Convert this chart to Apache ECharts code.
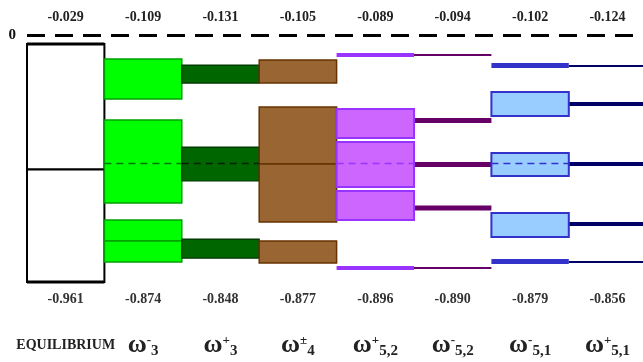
<!DOCTYPE html>
<html><head><meta charset="utf-8">
<script src="https://cdn.jsdelivr.net/npm/echarts@6/dist/echarts.min.js"></script>
<style>html,body{margin:0;padding:0;background:#fff}#c{width:643px;height:362px}</style>
</head><body><div id="c"></div>
<script>
const categories = ['EQUILIBRIUM', 'ω-3', 'ω+3', 'ω±4', 'ω+5,2', 'ω-5,2', 'ω-5,1', 'ω+5,1'];
const categoryLabels = ['{eq|EQUILIBRIUM}', '{w|ω}{sup|-}{sub|3}', '{w|ω}{sup|+}{sub|3}', '{w|ω}{sup|±}{sub|4}',
  '{w|ω}{sup|+}{sub|5,2}', '{w|ω}{sup|-}{sub|5,2}', '{w|ω}{sup|-}{sub|5,1}', '{w|ω}{sup|+}{sub|5,1}'];
const topLabels = ['-0.029', '-0.109', '-0.131', '-0.105', '-0.089', '-0.094', '-0.102', '-0.124'];
const bottomLabels = ['-0.961', '-0.874', '-0.848', '-0.877', '-0.896', '-0.890', '-0.879', '-0.856'];

// [category index, upper level, lower level]
const eqBoxes = [[0, -0.035, -0.523], [0, -0.523, -0.961]];
const eqEdges = [[0, -0.035], [0, -0.961]];
const wm3Boxes = [[1, -0.093, -0.249], [1, -0.331, -0.654], [1, -0.720, -0.802], [1, -0.802, -0.883]];
const wm3Mid = [[1, -0.5]];
const wp3Boxes = [[2, -0.117, -0.187], [2, -0.436, -0.568], [2, -0.794, -0.868]];
const wp3Mid = [[2, -0.5]];
const w4Boxes = [[3, -0.097, -0.187], [3, -0.280, -0.502], [3, -0.502, -0.728], [3, -0.802, -0.887]];
const wp52Boxes = [[4, -0.288, -0.401], [4, -0.416, -0.591], [4, -0.607, -0.720]];
const wp52Mid = [[4, -0.5]];
const wp52Edges = [[4, -0.078], [4, -0.907]];
const wm52Bars = [[5, -0.333], [5, -0.504], [5, -0.673]];
const wm52Edges = [[5, -0.078], [5, -0.907]];
const wm51Boxes = [[6, -0.222, -0.315], [6, -0.459, -0.549], [6, -0.693, -0.786]];
const wm51Mid = [[6, -0.5]];
const wm51Edges = [[6, -0.119], [6, -0.881]];
const wp51Bars = [[7, -0.268], [7, -0.502], [7, -0.735]];
const wp51Edges = [[7, -0.121], [7, -0.883]];

function boxSeries(data, style) {
  return {
    type: 'custom', data: data, z: 2,
    renderItem: function (params, api) {
      const bw = api.size([1, 0])[0];
      const p1 = api.coord([api.value(0), api.value(1)]);
      const p2 = api.coord([api.value(0), api.value(2)]);
      return { type: 'rect', shape: { x: p1[0] - bw / 2, y: p1[1], width: bw, height: p2[1] - p1[1] }, style: style };
    }
  };
}
function lineSeries(data, style, z) {
  return {
    type: 'custom', data: data, z: z || 3,
    renderItem: function (params, api) {
      const bw = api.size([1, 0])[0];
      const p = api.coord([api.value(0), api.value(1)]);
      return { type: 'line', shape: { x1: p[0] - bw / 2, y1: p[1], x2: p[0] + bw / 2, y2: p[1] }, style: style };
    }
  };
}

const serif = 'Liberation Serif, Times New Roman, serif';
const chart = echarts.init(document.getElementById('c'));
chart.setOption({
  animation: false,
  grid: { left: 27, top: 35, width: 619.2, height: 257, containLabel: false, outerBoundsMode: 'none' },
  xAxis: [
    { type: 'category', data: categories, position: 'bottom', axisLine: { show: false }, axisTick: { show: false },
      axisLabel: { interval: 0, margin: 0, formatter: (v, i) => bottomLabels[i], fontFamily: serif, fontWeight: 'bold', fontSize: 14, color: '#333' } },
    { type: 'category', data: categories, position: 'top', axisLine: { show: false }, axisTick: { show: false },
      axisLabel: { interval: 0, margin: 11, formatter: (v, i) => topLabels[i], fontFamily: serif, fontWeight: 'bold', fontSize: 14, color: '#222' } },
    { type: 'category', data: categories, position: 'bottom', offset: 39, axisLine: { show: false }, axisTick: { show: false },
      axisLabel: { interval: 0, margin: 0, formatter: (v, i) => categoryLabels[i], fontFamily: serif, fontWeight: 'bold', color: '#222',
        rich: {
          eq: { fontFamily: serif, fontWeight: 'bold', fontSize: 14, color: '#222', lineHeight: 28, verticalAlign: 'middle' },
          w: { fontFamily: serif, fontWeight: 'bold', fontSize: 26, color: '#222', lineHeight: 28, verticalAlign: 'middle' },
          sup: { fontFamily: serif, fontWeight: 'bold', fontSize: 13, color: '#222', lineHeight: 13, verticalAlign: 'top', padding: [3, 0, 0, 0] },
          sub: { fontFamily: serif, fontWeight: 'bold', fontSize: 15, color: '#222', lineHeight: 15, verticalAlign: 'bottom' }
        } } }
  ],
  yAxis: { type: 'value', min: -1, max: 0, interval: 1, axisLine: { show: false }, axisTick: { show: false }, splitLine: { show: false },
    axisLabel: { margin: 11, formatter: v => (v === 0 ? '0' : ''), fontFamily: serif, fontWeight: 'bold', fontSize: 15, color: '#111' } },
  series: [
    Object.assign(boxSeries(eqBoxes, { fill: '#fff', stroke: '#000', lineWidth: 2 }), {
      markLine: { silent: true, symbol: 'none', label: { show: false },
        lineStyle: { color: '#000', width: 3, type: [18, 10] }, data: [{ yAxis: 0 }] } }),
    lineSeries(eqEdges, { stroke: '#000', lineWidth: 3 }),
    boxSeries(wm3Boxes, { fill: '#00ff00', stroke: '#00a000', lineWidth: 1.5 }),
    lineSeries(wm3Mid, { stroke: '#007700', lineWidth: 1.5, lineDash: [7, 5] }),
    boxSeries(wp3Boxes, { fill: '#006600', stroke: '#003300', lineWidth: 1.2 }),
    lineSeries(wp3Mid, { stroke: '#002200', lineWidth: 1.5, lineDash: [7, 5] }),
    boxSeries(w4Boxes, { fill: '#996633', stroke: '#663300', lineWidth: 1.5 }),
    boxSeries(wp52Boxes, { fill: '#cc66ff', stroke: '#9933ff', lineWidth: 2 }),
    lineSeries(wp52Mid, { stroke: '#9933ff', lineWidth: 1.5, lineDash: [7, 5] }),
    lineSeries(wp52Edges, { stroke: '#9933ff', lineWidth: 4 }),
    lineSeries(wm52Bars, { stroke: '#660066', lineWidth: 5 }, 1),
    lineSeries(wm52Edges, { stroke: '#660066', lineWidth: 2 }),
    boxSeries(wm51Boxes, { fill: '#99ccff', stroke: '#3333cc', lineWidth: 2 }),
    lineSeries(wm51Mid, { stroke: '#3333cc', lineWidth: 1.5, lineDash: [7, 5] }),
    lineSeries(wm51Edges, { stroke: '#3333cc', lineWidth: 5 }),
    lineSeries(wp51Bars, { stroke: '#000066', lineWidth: 4 }, 1),
    lineSeries(wp51Edges, { stroke: '#000066', lineWidth: 2 })
  ]
});
</script></body></html>
